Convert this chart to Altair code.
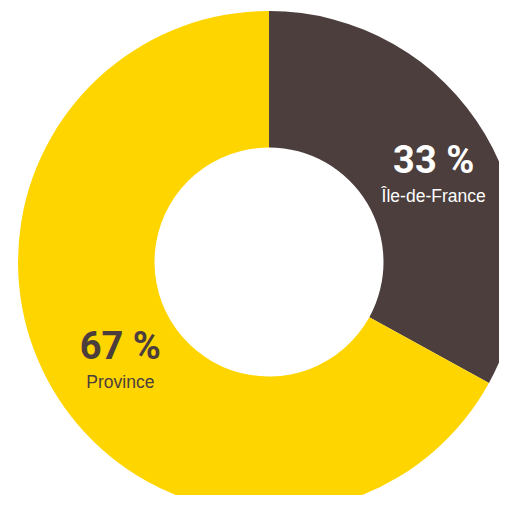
import altair as alt
import pandas as pd

categories = ["Île-de-France", "Province"]
values = [33, 67]
labels = ["33 %", "67 %"]
order_idx = [0, 1]
slice_colors = ["#4b3e3d", "#ffd500"]
text_colors = ["#ffffff", "#4b3e3d"]

df = pd.DataFrame({
    "cat": categories,
    "val": values,
    "pct": labels,
    "idx": order_idx,
})

cx, cy = 261, 254

base = alt.Chart(df).encode(
    theta=alt.Theta("val:Q", stack=True),
    order=alt.Order("idx:Q"),
)

arc = base.mark_arc(radius=251, radius2=114.5, stroke=None).encode(
    x=alt.value(cx), y=alt.value(cy),
    color=alt.Color("cat:N", scale=alt.Scale(domain=categories, range=slice_colors), legend=None),
)

pct = base.mark_text(
    radius=182, dx=8, dy=-7,
    font="Roboto",
    fontWeight="bold", fontSize=38, align="center", baseline="middle",
).encode(
    x=alt.value(cx), y=alt.value(cy),
    text="pct:N",
    color=alt.Color("cat:N", scale=alt.Scale(domain=categories, range=text_colors), legend=None),
)

cat = base.mark_text(
    radius=182, dx=8, dy=28,
    font="Liberation Sans, Arial, sans-serif",
    fontSize=17.5, align="center", baseline="middle",
).encode(
    x=alt.value(cx), y=alt.value(cy),
    text="cat:N",
    color=alt.Color("cat:N", scale=alt.Scale(domain=categories, range=text_colors), legend=None),
)

chart = alt.layer(arc, pct, cat).properties(
    width=491, height=487,
    autosize=alt.AutoSizeParams(type="none"),
    padding=0,
).configure_view(stroke=None).resolve_scale(color="independent")

chart.save("out.html", embed_options={"renderer": "svg", "actions": False})
